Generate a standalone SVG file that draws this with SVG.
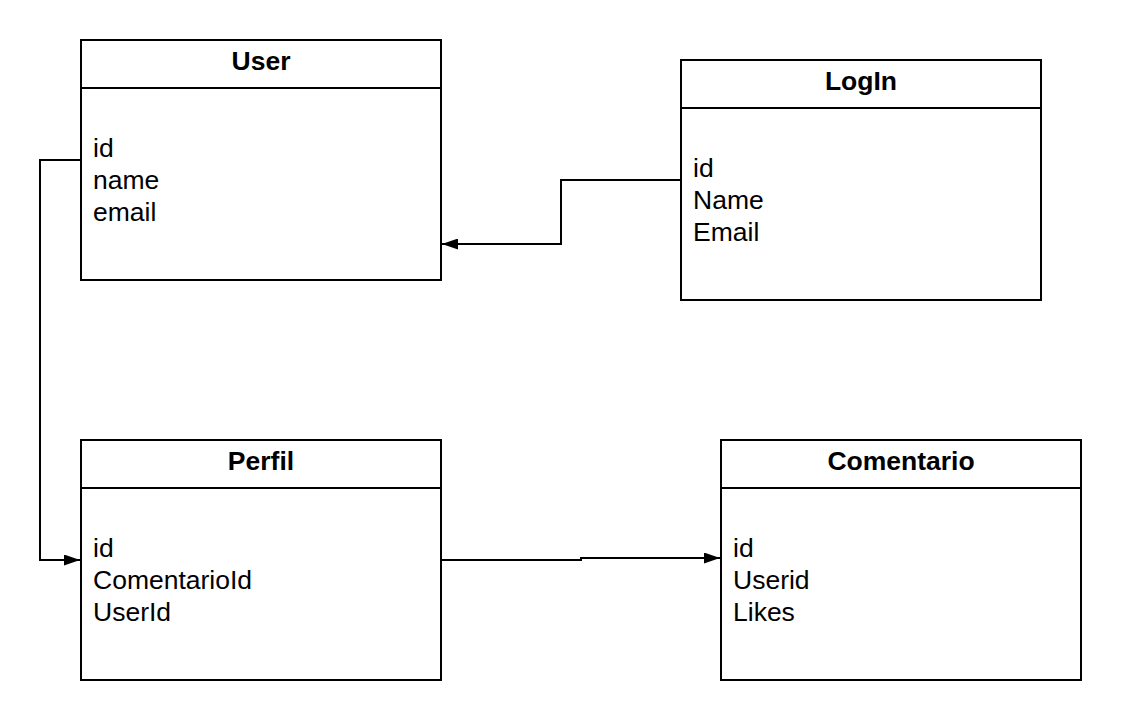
<svg xmlns="http://www.w3.org/2000/svg" width="1121" height="720" viewBox="0 0 1121 720">
<defs>
<style>
.box{fill:#fff;stroke:#000;stroke-width:2}
.t{font-family:"Liberation Sans",Arial,sans-serif;font-size:26.5px;font-weight:bold;text-anchor:middle;fill:#000}
.a{font-family:"Liberation Sans",Arial,sans-serif;font-size:26.5px;fill:#000}
.c{fill:none;stroke:#000;stroke-width:2}
</style>
<marker id="ar" markerWidth="16" markerHeight="11" refX="16" refY="5.5" orient="auto" markerUnits="userSpaceOnUse">
<path d="M0,0 L16,5.5 L0,11 Z" fill="#000"/>
</marker>
</defs>
<rect width="1121" height="720" fill="#fff"/>
<g id="connectors">
<path class="c" d="M81,160 H40 V560 H80" marker-end="url(#ar)"/>
<path class="c" d="M681,180 H561 V244 H442" marker-end="url(#ar)"/>
<path class="c" d="M441,560 H581 V558 H720" marker-end="url(#ar)"/>
</g>
<g id="User">
<rect class="box" x="81" y="40" width="360" height="240"/>
<line class="c" x1="81" y1="88" x2="441" y2="88"/>
<text class="t" x="261" y="70">User</text>
<text class="a" x="93" y="157">id</text>
<text class="a" x="93" y="189">name</text>
<text class="a" x="93" y="221">email</text>
</g>
<g id="LogIn">
<rect class="box" x="681" y="60" width="360" height="240"/>
<line class="c" x1="681" y1="108" x2="1041" y2="108"/>
<text class="t" x="861" y="90">LogIn</text>
<text class="a" x="693" y="177">id</text>
<text class="a" x="693" y="209">Name</text>
<text class="a" x="693" y="241">Email</text>
</g>
<g id="Perfil">
<rect class="box" x="81" y="440" width="360" height="240"/>
<line class="c" x1="81" y1="488" x2="441" y2="488"/>
<text class="t" x="261" y="470">Perfil</text>
<text class="a" x="93" y="557">id</text>
<text class="a" x="93" y="589">ComentarioId</text>
<text class="a" x="93" y="621">UserId</text>
</g>
<g id="Comentario">
<rect class="box" x="721" y="440" width="360" height="240"/>
<line class="c" x1="721" y1="488" x2="1081" y2="488"/>
<text class="t" x="901" y="470">Comentario</text>
<text class="a" x="733" y="557">id</text>
<text class="a" x="733" y="589">Userid</text>
<text class="a" x="733" y="621">Likes</text>
</g>
</svg>
